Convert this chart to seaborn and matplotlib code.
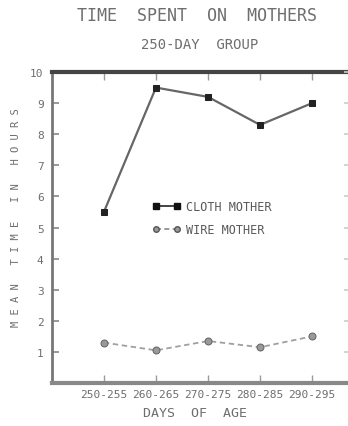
import matplotlib
matplotlib.use("Agg")
import matplotlib.pyplot as plt
import seaborn as sns
import pandas as pd
from matplotlib.lines import Line2D

age_groups = ["250-255", "260-265", "270-275", "280-285", "290-295"]
cloth_hours = [5.5, 9.5, 9.2, 8.3, 9.0]
wire_hours = [1.3, 1.05, 1.35, 1.15, 1.5]
y_ticks = [1, 2, 3, 4, 5, 6, 7, 8, 9, 10]

sns.set_style("white")
plt.rcParams["font.family"] = ["DejaVu Sans Mono"]

ink = "#5a5a5a"
text_col = "#6e6e6e"

df = pd.DataFrame({
    "pos": list(range(len(age_groups))) * 2,
    "hours": cloth_hours + wire_hours,
    "mother": ["CLOTH MOTHER"] * len(age_groups) + ["WIRE MOTHER"] * len(age_groups),
})

fig = plt.figure(figsize=(3.48, 4.27), dpi=100)
ax = fig.add_axes([0.149, 0.1007, 0.851, 0.7283])

cloth = df[df["mother"] == "CLOTH MOTHER"]
wire = df[df["mother"] == "WIRE MOTHER"]
sns.lineplot(data=cloth, x="pos", y="hours", ax=ax, color="#666666", lw=1.6,
             marker="s", markersize=5, markerfacecolor="#222222",
             markeredgecolor="#222222", legend=False)
sns.lineplot(data=wire, x="pos", y="hours", ax=ax, color="#a0a0a0", lw=1.3,
             linestyle=(0, (3, 2)), marker="o", markersize=5,
             markerfacecolor="#999999", markeredgecolor="#666666", legend=False)

ax.set_xlim(-1, 4.69)
ax.set_ylim(0, 10)
ax.set_xticks(range(len(age_groups)))
ax.set_xticklabels(age_groups, fontsize=8, color=text_col)
ax.set_yticks(y_ticks)
ax.set_yticklabels([str(t) for t in y_ticks], fontsize=8, color=text_col)
ax.tick_params(axis="x", direction="in", length=6, width=1, color="#999999",
               top=True, bottom=True, pad=4)
ax.tick_params(axis="y", direction="in", length=5, width=1.2, color="#888888",
               left=True, right=False, pad=6)
ax.set_xlabel("DAYS  OF  AGE", fontsize=9.5, color=text_col)
ax.xaxis.set_label_coords(0.485, -0.075)
ax.set_ylabel("M E A N   T I M E   I N   H O U R S", fontsize=7.5,
              color=text_col)
ax.yaxis.set_label_coords(-0.105, 0.535)

# faint tick marks along the right edge
ax_r = ax.twinx()
ax_r.set_ylim(ax.get_ylim())
ax_r.set_yticks(y_ticks)
ax_r.tick_params(axis="y", direction="in", length=3, width=1.2, color="#cccccc",
                 labelright=False)
for s in ax_r.spines.values():
    s.set_visible(False)

for side, w, c in [("top", 3, "#444444"), ("bottom", 3, "#888888"),
                   ("left", 2, "#777777")]:
    ax.spines[side].set_linewidth(w)
    ax.spines[side].set_color(c)
    ax.spines[side].set_visible(True)
ax.spines["right"].set_visible(False)

handles = [
    Line2D([], [], color="#444444", lw=1.4, marker="s", markersize=4,
           markerfacecolor="#111111", markeredgecolor="#111111"),
    Line2D([], [], color="#888888", lw=1.2, linestyle=(0, (3, 2)), marker="o",
           markersize=4, markerfacecolor="#999999", markeredgecolor="#555555"),
]
ax.legend(handles, ["CLOTH MOTHER", "WIRE MOTHER"], loc="center",
          bbox_to_anchor=(0.54, 0.53), frameon=False, fontsize=8.5,
          numpoints=2, handlelength=2.4, handletextpad=0.4, labelspacing=0.8,
          labelcolor=ink)

fig.text(0.565, 0.962, "TIME  SPENT  ON  MOTHERS", ha="center", va="center",
         fontsize=12, color=text_col)
fig.text(0.575, 0.895, "250-DAY  GROUP", ha="center", va="center",
         fontsize=10, color=text_col)

fig.savefig("out.png", dpi=100)
